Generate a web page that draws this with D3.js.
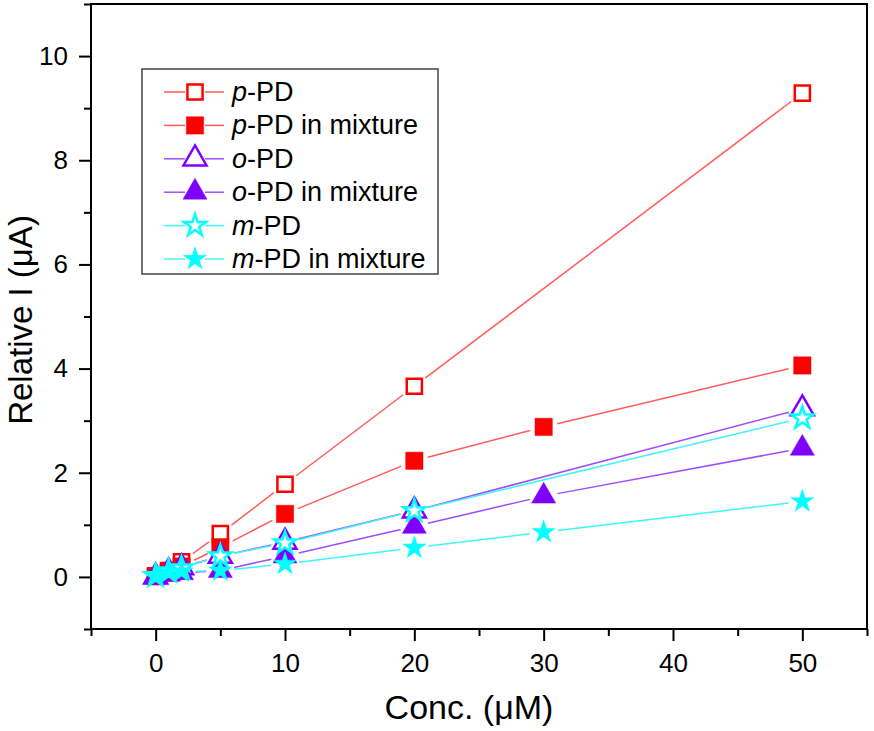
<!DOCTYPE html>
<html>
<head>
<meta charset="utf-8">
<script src="https://cdn.jsdelivr.net/npm/d3@7"></script>
<style>
  body { margin: 0; background: #fff; }
  text { font-family: "Liberation Sans", Arial, sans-serif; fill: #000; }
</style>
</head>
<body>
<div id="chart"></div>
<script>
// data
const concPure = [0, 1, 2, 5, 10, 20, 50];
const concMix = [0, 1, 2, 5, 10, 20, 30, 50];

const pPD = [0.02, 0.12, 0.29, 0.83, 1.78, 3.66, 9.29];
const pPDMix = [0.01, 0.08, 0.2, 0.57, 1.21, 2.23, 2.88, 4.06];
const oPD = [0.0, 0.1, 0.18, 0.4, 0.67, 1.27, 3.23];
const oPDMix = [0.0, 0.05, 0.08, 0.12, 0.4, 0.97, 1.55, 2.47];
const mPD = [0.02, 0.11, 0.17, 0.4, 0.65, 1.27, 3.05];
const mPDMix = [0.01, 0.08, 0.1, 0.12, 0.25, 0.56, 0.86, 1.45];

const xTicks = [0, 10, 20, 30, 40, 50];
const yTicks = [0, 2, 4, 6, 8, 10];

const series = [
    { prefix: 'p', rest: '-PD', x: concPure, y: pPD, color: '#ff0000', line: '#ff5b5b', shape: d3.symbolSquare, size: 230, open: true },
    { prefix: 'p', rest: '-PD in mixture', x: concMix, y: pPDMix, color: '#ff0000', line: '#ff5b5b', shape: d3.symbolSquare, size: 300, open: false },
    { prefix: 'o', rest: '-PD', x: concPure, y: oPD, color: '#8000ff', line: '#a04dff', shape: d3.symbolTriangle, size: 230, open: true },
    { prefix: 'o', rest: '-PD in mixture', x: concMix, y: oPDMix, color: '#8000ff', line: '#a04dff', shape: d3.symbolTriangle, size: 250, open: false },
    { prefix: 'm', rest: '-PD', x: concPure, y: mPD, color: '#00ffff', line: '#40f5f5', shape: d3.symbolStar, size: 150, open: true },
    { prefix: 'm', rest: '-PD in mixture', x: concMix, y: mPDMix, color: '#00ffff', line: '#40f5f5', shape: d3.symbolStar, size: 165, open: false }
];

const margin = { top: 4, right: 7, bottom: 102, left: 91 },
    width = 874 - margin.left - margin.right,
    height = 731 - margin.top - margin.bottom;

const svg = d3.select('#chart')
    .append('svg')
    .attr('width', 874)
    .attr('height', 731);

const g = svg.append('g')
    .attr('transform', `translate(${margin.left},${margin.top})`);

const xScale = d3.scaleLinear().domain([-5, 55]).range([0, width]);
const yScale = d3.scaleLinear().domain([-1, 11]).range([height, 0]);

// minor ticks
const xMinor = d3.axisBottom(xScale).tickValues(d3.range(-5, 56, 10)).tickSize(7).tickFormat('');
const yMinor = d3.axisLeft(yScale).tickValues(d3.range(-1, 12, 2)).tickSize(7).tickFormat('');
const xAxis = d3.axisBottom(xScale).tickValues(xTicks).tickSize(12).tickPadding(13);
const yAxis = d3.axisLeft(yScale).tickValues(yTicks).tickSize(12).tickPadding(11);

g.append('g').attr('transform', `translate(0,${height})`).call(xMinor);
g.append('g').call(yMinor);
g.append('g').attr('class', 'x-axis').attr('transform', `translate(0,${height})`).call(xAxis);
g.append('g').attr('class', 'y-axis').call(yAxis);

g.selectAll('.domain').remove();
g.selectAll('.tick line').attr('stroke', '#000').attr('stroke-width', 2);
g.selectAll('.tick text').style('font-size', '26px').attr('font-family', '"Liberation Sans", Arial, sans-serif');

// frame
g.append('rect')
    .attr('width', width)
    .attr('height', height)
    .attr('fill', 'none')
    .attr('stroke', '#000')
    .attr('stroke-width', 2);

// axis titles
svg.append('text')
    .attr('x', 469)
    .attr('y', 719)
    .attr('text-anchor', 'middle')
    .style('font-size', '34px')
    .text('Conc. (\u03bcM)');

svg.append('text')
    .attr('transform', 'translate(32,320) rotate(-90)')
    .attr('text-anchor', 'middle')
    .style('font-size', '33px')
    .text('Relative I (\u03bcA)');

// lines with small gaps around the markers
const gap = 14;
function segments(pts) {
    const out = [];
    for (let i = 0; i < pts.length - 1; i++) {
        const [x1, y1] = pts[i], [x2, y2] = pts[i + 1];
        const dx = x2 - x1, dy = y2 - y1, len = Math.hypot(dx, dy);
        if (len <= 2 * gap) continue;
        const ux = dx / len, uy = dy / len;
        out.push([x1 + ux * gap, y1 + uy * gap, x2 - ux * gap, y2 - uy * gap]);
    }
    return out;
}

function marker(sel, s) {
    sel.attr('d', d3.symbol().type(s.shape).size(s.size))
        .attr('fill', s.open ? '#fff' : s.color)
        .attr('stroke', s.color)
        .attr('stroke-width', s.open ? 2.5 : 0.5);
}

series.forEach(s => {
    const pts = s.x.map((x, i) => [xScale(x), yScale(s.y[i])]);
    g.append('g').selectAll('line')
        .data(segments(pts))
        .join('line')
        .attr('x1', d => d[0]).attr('y1', d => d[1])
        .attr('x2', d => d[2]).attr('y2', d => d[3])
        .attr('stroke', s.line)
        .attr('stroke-width', 1.5);
});

series.forEach(s => {
    const pts = s.x.map((x, i) => [xScale(x), yScale(s.y[i])]);
    g.append('g').selectAll('path')
        .data(pts)
        .join('path')
        .attr('transform', d => `translate(${d[0]},${d[1]})`)
        .call(marker, s);
});

// legend
const legend = svg.append('g').attr('transform', 'translate(142,69)');
legend.append('rect')
    .attr('width', 296)
    .attr('height', 205)
    .attr('fill', '#fff')
    .attr('stroke', '#444')
    .attr('stroke-width', 1.5);

series.forEach((s, i) => {
    const row = legend.append('g').attr('transform', `translate(0,${23 + i * 33.4})`);
    row.append('line').attr('x1', 22).attr('x2', 43).attr('stroke', s.line).attr('stroke-width', 1.5);
    row.append('line').attr('x1', 63).attr('x2', 82).attr('stroke', s.line).attr('stroke-width', 1.5);
    row.append('path').attr('transform', 'translate(53,0)').call(marker, s);
    const t = row.append('text')
        .attr('x', 90)
        .attr('y', 9)
        .style('font-size', '27px');
    t.append('tspan').style('font-style', 'italic').text(s.prefix);
    t.append('tspan').text(s.rest);
});
</script>
</body>
</html>
